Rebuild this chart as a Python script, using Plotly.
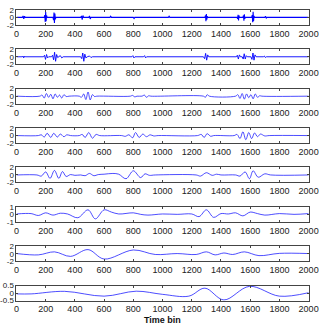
import plotly.graph_objects as go

# ---------------- data ----------------
time_ticks = [0, 200, 400, 600, 800, 1000, 1200, 1400, 1600, 1800, 2000]

d1_x = [0, 40, 45, 50, 55, 60, 190, 194, 197, 200, 203, 206, 210, 250, 254, 257, 260, 263, 266, 270,
        440, 445, 450, 455, 460, 495, 500, 505, 510, 640, 645, 650, 800, 805, 810, 1040, 1045, 1050,
        1290, 1294, 1297, 1300, 1303, 1306, 1310, 1510, 1514, 1517, 1520, 1523, 1526, 1550, 1554, 1557,
        1560, 1563, 1566, 1610, 1614, 1617, 1620, 1623, 1626, 1630, 1700, 1705, 1710, 1715, 2000]
d1_y = [0, 0, 0.4, -0.4, 0.3, 0, 0, 0.6, -1.2, 1.4, -1.0, 0.5, 0, 0, -0.7, 1.3, -1.5, 1.0, -0.5, 0,
        0, 0.4, -0.6, 0.5, 0, 0, 0.4, -0.4, 0, 0, 0.3, 0, 0, -0.3, 0, 0, 0.3, 0,
        0, 0.5, -1.0, 0.9, -0.6, 0.3, 0, 0, -0.4, 0.7, -0.8, 0.5, 0, 0, 0.5, -0.9,
        0.8, -0.4, 0, 0, 0.6, -1.3, 1.5, -1.0, 0.4, 0, 0, 0.3, -0.2, 0, 0]

d2_x = [0, 40, 45, 50, 55, 60, 185, 192, 199, 206, 213, 220, 240, 247, 254, 261, 268, 275, 282, 290,
        300, 310, 320, 440, 447, 454, 461, 468, 475, 485, 500, 510, 520, 790, 797, 804, 811,
        870, 877, 884, 891, 1280, 1288, 1295, 1302, 1309, 1316, 1505, 1512, 1519, 1526, 1533,
        1545, 1552, 1559, 1566, 1573, 1580, 1605, 1612, 1619, 1626, 1633, 1640, 1690, 1697, 1704, 1711, 2000]
d2_y = [0, 0, 0.2, -0.3, 0.2, 0, 0, 0.4, -0.7, 0.6, -0.3, 0, 0, 0.4, -0.8, 1.2, -1.2, 0.6, -0.2, 0,
        0.3, -0.3, 0, 0, -0.5, 1.0, -1.2, 0.7, -0.3, 0, 0.2, -0.2, 0, 0, 0.3, -0.3, 0,
        0, 0.3, -0.3, 0, 0, -0.5, 0.9, -0.9, 0.5, 0, 0, 0.4, -0.6, 0.5, 0,
        0, -0.6, 0.8, -0.6, 0.3, 0, 0, -0.7, 1.0, -0.9, 0.5, 0, 0, 0.2, -0.2, 0, 0]

d3_x = [0, 160, 175, 190, 205, 220, 235, 250, 265, 280, 295, 310, 325, 340, 360, 430, 445, 460, 475,
        490, 505, 520, 535, 550, 780, 795, 810, 825, 860, 875, 890, 905, 920, 1280, 1293, 1306, 1320,
        1500, 1515, 1530, 1545, 1560, 1575, 1590, 1605, 1620, 1635, 1650, 1665, 1680, 2000]
d3_y = [0, 0, 0.3, -0.5, 0.7, -0.3, 0.5, -0.7, 0.6, -0.3, 0.3, -0.5, 0.4, -0.1, 0, 0, -0.3, 0.6, -0.9,
        1.1, -1.0, 0.4, -0.1, 0, 0, 0.2, -0.2, 0, 0, 0.3, -0.3, 0.1, 0, 0, -0.3, 0.4, 0,
        0, 0.4, -0.6, 0.7, -0.8, 0.6, -0.4, 0.4, -0.7, 0.6, -0.3, 0.1, 0, 0]

d4_x = [0, 150, 170, 190, 210, 235, 255, 280, 300, 325, 345, 370, 430, 450, 470, 495, 520, 545, 570,
        720, 745, 770, 795, 815, 840, 865, 890, 915, 940, 970, 1240, 1265, 1285, 1305, 1330, 1350,
        1490, 1510, 1530, 1550, 1570, 1590, 1610, 1630, 1650, 1670, 1700, 1730, 2000]
d4_y = [0, 0, 0.2, -0.4, 0.6, -0.5, 0.6, -0.4, 0.4, -0.3, 0.2, 0, 0, 0.3, -0.5, 0.8, -0.7, 0.3, 0,
        0, -0.2, 0.2, -0.6, 0.8, -0.5, 0.4, -0.3, 0.2, -0.1, 0, 0, 0.3, -0.5, 0.5, -0.2, 0,
        0, 0.3, -0.8, 1.0, -1.1, 0.8, -0.8, 0.7, -0.3, 0.4, -0.1, 0, 0]

d5_x = [0, 140, 170, 200, 230, 260, 290, 315, 340, 370, 400, 440, 470, 500, 530, 560, 600, 660, 700,
        750, 800, 850, 880, 910, 950, 1230, 1260, 1300, 1340, 1370, 1400, 1500, 1530, 1565, 1595,
        1620, 1655, 1700, 1740, 2000]
d5_y = [0, 0, -0.3, 0.8, -0.9, 1.2, -0.9, 0.9, -0.4, 0.1, -0.1, 0, -0.2, 0.4, -0.2, 0.1, 0.2, 0.4, 0.2,
        -1.0, 1.1, -0.7, 0.3, -0.1, 0, 0, -0.3, 0.6, -0.1, 0.2, 0, 0, -0.3, 0.8, -1.0,
        1.1, -0.6, 0.3, 0, 0]

d6_x = [0, 100, 150, 200, 250, 300, 350, 420, 490, 540, 600, 650, 700, 800, 850, 900, 1000, 1100,
        1200, 1250, 1300, 1350, 1400, 1450, 1500, 1550, 1600, 1650, 1700, 1800, 1900, 2000]
d6_y = [0.05, 0.1, -0.15, 0.2, -0.1, 0.15, 0.05, -0.45, 0.6, -0.6, 0.6, 0.3, 0.05, 0.2, 0.0, -0.1, 0.05, 0.0,
        0.05, -0.3, 0.6, -0.4, 0.1, 0.05, 0.2, -0.2, 0.3, 0.1, -0.1, 0.1, 0.0, 0.1]

d7_x = [0, 150, 260, 370, 490, 600, 800, 950, 1100, 1230, 1300, 1360, 1420, 1480, 1560, 1660, 1800, 2000]
d7_y = [0.05, -0.3, 0.5, -0.7, 1.1, -1.4, 1.0, -0.2, 0.05, -0.2, 0.5, -0.3, 0.2, -0.2, 0.5, -0.5, 0.1, 0.05]

d8_x = [0, 100, 330, 600, 820, 1000, 1180, 1290, 1420, 1595, 1800, 2000]
d8_y = [-0.05, -0.05, 0.12, -0.2, 0.13, -0.08, -0.2, 0.33, -0.45, 0.45, -0.2, 0.03]

y_ranges = [[-2, 2], [-2, 2], [-2, 2], [-2, 2], [-2, 2], [-1, 1], [-2, 2], [-0.5, 0.5]]
y_tickvals = [[-2, 0, 2]] * 5 + [[-1, 0, 1]] + [[-2, 0, 2]] + [[-0.5, 0, 0.5]]
y_ticktext = [["-2", "0", "2"]] * 5 + [["-1", "0", "1"]] + [["-2", "0", "2"]] + [["-0.5", "0", "0.5"]]

# ---------------- figure ----------------
W, H = 332, 330
panels = [(d1_x, d1_y), (d2_x, d2_y), (d3_x, d3_y), (d4_x, d4_y),
          (d5_x, d5_y), (d6_x, d6_y), (d7_x, d7_y), (d8_x, d8_y)]
widths = [1.1, 0.9, 0.7, 0.7, 0.7, 0.7, 0.7, 0.7]
shapes = ["linear", "linear", "spline", "spline", "spline", "spline", "spline", "spline"]

fig = go.Figure()
layout = dict(width=W, height=H, margin=dict(l=0, r=0, t=0, b=0),
              paper_bgcolor="white", plot_bgcolor="white", showlegend=False,
              font=dict(family="Liberation Sans, Arial", size=9, color="#222"))

x0, x1 = 12 / W, 318 / W
x_font = dict(family="Liberation Sans, Arial", size=9, color="#222")
y_font = dict(family="Liberation Sans, Arial", size=8, color="#222")
for i, (xs, ys) in enumerate(panels):
    s = "" if i == 0 else str(i + 1)
    top = 6 + 40.5 * i
    bot = top + 15.5
    fig.add_trace(go.Scatter(x=xs, y=ys, mode="lines",
                             line=dict(color="#0000ff", width=widths[i], shape=shapes[i]),
                             xaxis="x" + s, yaxis="y" + s, hoverinfo="skip"))
    layout["xaxis" + s] = dict(domain=[x0, x1], anchor="y" + s, range=[0, 2000],
                               tickvals=time_ticks, ticktext=[str(t) for t in time_ticks],
                               ticks="inside", ticklen=2, tickcolor="#444", mirror="ticks",
                               showline=True, linecolor="#444", linewidth=1,
                               showgrid=False, zeroline=False, tickfont=x_font)
    layout["yaxis" + s] = dict(domain=[1 - bot / H, 1 - top / H], anchor="x" + s,
                               range=y_ranges[i], tickvals=y_tickvals[i], ticktext=y_ticktext[i],
                               ticks="inside", ticklen=2, tickcolor="#444", mirror="ticks",
                               showline=True, linecolor="#444", linewidth=1,
                               showgrid=False, zeroline=False, tickfont=y_font)

fig.update_layout(**layout)
fig.add_annotation(text="<b>Time bin</b>", x=(x0 + x1) / 2, y=1 - 324.5 / H,
                   xref="paper", yref="paper", showarrow=False,
                   xanchor="center", yanchor="middle",
                   font=dict(family="Liberation Sans, Arial", size=9, color="#111"))
fig.write_html("out.html")
